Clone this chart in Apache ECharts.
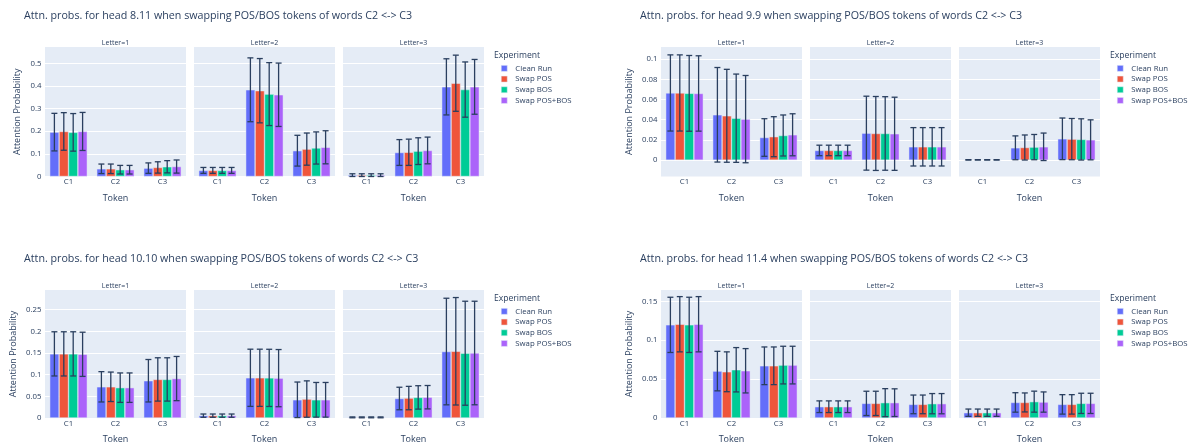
<!DOCTYPE html>
<html><head><meta charset="utf-8">
<script src="https://cdn.jsdelivr.net/npm/echarts@6/dist/echarts.min.js"></script>
<style>html,body{margin:0;padding:0;background:#fff}#c{width:1195px;height:445px}</style>
</head><body><div id="c"></div>
<script>
const categories = ['C1', 'C2', 'C3'];
const experiments = ['Clean Run', 'Swap POS', 'Swap BOS', 'Swap POS+BOS'];
const letters = ['Letter=1', 'Letter=2', 'Letter=3'];
const heads = ['8.11', '9.9', '10.10', '11.4'];
const colors = ['#636efa', '#EF553B', '#00cc96', '#ab63fa'];

// mean[letter][experiment][token]
const mean_8_11 = [
  [[0.196, 0.034, 0.037], [0.199, 0.034, 0.040], [0.195, 0.030, 0.043], [0.199, 0.030, 0.044]],
  [[0.027, 0.383, 0.114], [0.027, 0.379, 0.121], [0.027, 0.364, 0.126], [0.027, 0.361, 0.129]],
  [[0.006, 0.106, 0.396], [0.006, 0.107, 0.412], [0.006, 0.112, 0.384], [0.006, 0.115, 0.396]]
];
const err_8_11 = [
  [[0.083, 0.021, 0.023], [0.083, 0.021, 0.025], [0.083, 0.019, 0.027], [0.084, 0.019, 0.029]],
  [[0.013, 0.141, 0.068], [0.013, 0.142, 0.071], [0.013, 0.139, 0.071], [0.013, 0.140, 0.073]],
  [[0.006, 0.057, 0.124], [0.006, 0.058, 0.124], [0.006, 0.059, 0.122], [0.006, 0.059, 0.121]]
];
const mean_9_9 = [
  [[0.0665, 0.0449, 0.0224], [0.0665, 0.0439, 0.0232], [0.0661, 0.0415, 0.0244], [0.0660, 0.0406, 0.0251]],
  [[0.0096, 0.0267, 0.0132], [0.0096, 0.0264, 0.0132], [0.0096, 0.0264, 0.0132], [0.0096, 0.0261, 0.0132]],
  [[0.0003, 0.0122, 0.0211], [0.0003, 0.0125, 0.0208], [0.0003, 0.0129, 0.0205], [0.0003, 0.0132, 0.0201]]
];
const err_9_9 = [
  [[0.0377, 0.0468, 0.0186], [0.0377, 0.0460, 0.0198], [0.0375, 0.0437, 0.0203], [0.0373, 0.0432, 0.0208]],
  [[0.0052, 0.0366, 0.0190], [0.0052, 0.0366, 0.0190], [0.0052, 0.0364, 0.0190], [0.0052, 0.0362, 0.0190]],
  [[0.0002, 0.0118, 0.0206], [0.0002, 0.0124, 0.0204], [0.0002, 0.0125, 0.0204], [0.0002, 0.0136, 0.0198]]
];
const mean_10_10 = [
  [[0.148, 0.072, 0.086], [0.148, 0.072, 0.089], [0.148, 0.070, 0.089], [0.147, 0.070, 0.091]],
  [[0.0054, 0.0928, 0.042], [0.0054, 0.0928, 0.0437], [0.0054, 0.0926, 0.042], [0.0054, 0.092, 0.042]],
  [[0.0015, 0.045, 0.1534], [0.0015, 0.046, 0.154], [0.0015, 0.0475, 0.1495], [0.0015, 0.048, 0.150]]
];
const err_10_10 = [
  [[0.051, 0.035, 0.049], [0.051, 0.034, 0.050], [0.051, 0.034, 0.050], [0.051, 0.034, 0.051]],
  [[0.0038, 0.066, 0.041], [0.0038, 0.066, 0.042], [0.0038, 0.066, 0.040], [0.0038, 0.066, 0.040]],
  [[0.001, 0.026, 0.123], [0.001, 0.027, 0.124], [0.001, 0.027, 0.120], [0.001, 0.027, 0.1195]]
];
const mean_11_4 = [
  [[0.1197, 0.0603, 0.0671], [0.1205, 0.0594, 0.0671], [0.1197, 0.0620, 0.0680], [0.1205, 0.0607, 0.0680]],
  [[0.0145, 0.0188, 0.0175], [0.0145, 0.0188, 0.0175], [0.0145, 0.0197, 0.0184], [0.0145, 0.0197, 0.0184]],
  [[0.0068, 0.0200, 0.0175], [0.0068, 0.0200, 0.0175], [0.0068, 0.0210, 0.0188], [0.0068, 0.0205, 0.0188]]
];
const err_11_4 = [
  [[0.0355, 0.0254, 0.0242], [0.0355, 0.0256, 0.0242], [0.0355, 0.0285, 0.0242], [0.0355, 0.0285, 0.0242]],
  [[0.0075, 0.0156, 0.012], [0.0075, 0.0156, 0.012], [0.0075, 0.018, 0.013], [0.0075, 0.0178, 0.013]],
  [[0.0047, 0.0125, 0.0125], [0.0047, 0.0122, 0.0125], [0.0047, 0.0135, 0.013], [0.0047, 0.013, 0.013]]
];

const yTicks_8_11 = [0, 0.1, 0.2, 0.3, 0.4, 0.5];
const yTicks_9_9 = [0, 0.02, 0.04, 0.06, 0.08, 0.1];
const yTicks_10_10 = [0, 0.05, 0.1, 0.15, 0.2, 0.25];
const yTicks_11_4 = [0, 0.05, 0.1, 0.15];

const yRange_8_11 = [0, 0.572];
const yRange_9_9 = [-0.0162, 0.112];
const yRange_10_10 = [0, 0.2954];
const yRange_11_4 = [0, 0.1645];

const means = [mean_8_11, mean_9_9, mean_10_10, mean_11_4];
const errs = [err_8_11, err_9_9, err_10_10, err_11_4];
const ticks = [yTicks_8_11, yTicks_9_9, yTicks_10_10, yTicks_11_4];
const ranges = [yRange_8_11, yRange_9_9, yRange_10_10, yRange_11_4];

// layout
const FONT = "'Open Sans', verdana, arial, sans-serif";
const TXT = '#2a3f5f';
const panels = [{dx: 0, dy: 0}, {dx: 616, dy: 0}, {dx: 0, dy: 243}, {dx: 616, dy: 243}];
const yNameGap = [23.5, 27.5, 27.5, 27.5];
const facetLeft = [45, 194, 343], facetW = 141, plotTop = 47, plotH = 129.5;

const grid = [], xAxis = [], yAxis = [], series = [], title = [], legend = [];
panels.forEach((p, pi) => {
  title.push({
    text: 'Attn. probs. for head ' + heads[pi] + ' when swapping POS/BOS tokens of words C2 <-> C3',
    left: 24 + p.dx, top: 9 + p.dy, padding: 0,
    textStyle: {fontFamily: FONT, fontSize: 10.7, fontWeight: 'normal', color: TXT, lineHeight: 13}
  });
  title.push({
    text: 'Experiment', left: 494 + p.dx, top: 50.5 + p.dy, padding: 0,
    textStyle: {fontFamily: FONT, fontSize: 8.6, fontWeight: 'normal', color: TXT, lineHeight: 11}
  });
  legend.push({
    data: experiments, orient: 'vertical', left: 501 + p.dx, top: 63 + p.dy, padding: 0,
    itemWidth: 6, itemHeight: 6, itemGap: 0, icon: 'rect',
    itemStyle: {borderColor: '#E5ECF6', borderWidth: 0.5},
    textStyle: {fontFamily: FONT, fontSize: 7.8, color: TXT, lineHeight: 10.7, padding: [0, 0, 0, 3]},
    selectedMode: false
  });
  letters.forEach((lt, fi) => {
    const gi = grid.length;
    const left = facetLeft[fi] + p.dx;
    const top = plotTop + p.dy;
    grid.push({left: left, top: top, width: facetW, height: plotH, show: true,
      backgroundColor: '#E5ECF6', borderWidth: 0, containLabel: false});
    title.push({
      text: lt, left: left + facetW / 2, textAlign: 'center', top: top - 8.5, padding: 0,
      textStyle: {fontFamily: FONT, fontSize: 7, fontWeight: 'normal', color: TXT, lineHeight: 8}
    });
    xAxis.push({
      type: 'category', gridIndex: gi, data: categories,
      axisLine: {show: false}, axisTick: {show: false}, splitLine: {show: false},
      axisLabel: {fontFamily: FONT, fontSize: 7.8, color: TXT, margin: 1.5},
      name: 'Token', nameLocation: 'middle', nameGap: 17,
      nameTextStyle: {fontFamily: FONT, fontSize: 9, color: TXT}
    });
    yAxis.push({
      type: 'value', gridIndex: gi, min: ranges[pi][0], max: ranges[pi][1],
      axisLine: {show: false},
      axisTick: {show: false, customValues: ticks[pi]},
      splitLine: {show: true, lineStyle: {color: '#ffffff', width: 1}},
      axisLabel: {show: fi === 0, customValues: ticks[pi], fontFamily: FONT, fontSize: 7.8, color: TXT, margin: 3.5},
      name: fi === 0 ? 'Attention Probability' : '', nameLocation: 'middle', nameRotate: 90,
      nameGap: yNameGap[pi], nameTextStyle: {fontFamily: FONT, fontSize: 9, color: TXT}
    });
    experiments.forEach((ex, ei) => {
      series.push({
        type: 'bar', name: ex, xAxisIndex: gi, yAxisIndex: gi,
        data: means[pi][fi][ei], barGap: '0%', barCategoryGap: '20%',
        itemStyle: {color: colors[ei], borderColor: '#E5ECF6', borderWidth: 0.5},
        silent: true, animation: false
      });
    });
    experiments.forEach((ex, ei) => {
      const d = categories.map((c, ci) => [ci, means[pi][fi][ei][ci], errs[pi][fi][ei][ci]]);
      series.push({
        type: 'custom', name: ex, xAxisIndex: gi, yAxisIndex: gi, z: 5,
        data: d, encode: {x: 0, y: 1}, silent: true, animation: false, clip: false,
        itemStyle: {color: colors[ei]},
        renderItem: (params, api) => {
          const ci = api.value(0), m = api.value(1), e = api.value(2);
          const band = api.size([1, 0])[0];
          const bw = band * 0.8 / 4;
          const x = api.coord([ci, m])[0] + (ei - 1.5) * bw;
          const yt = api.coord([ci, m + e])[1];
          const yb = api.coord([ci, m - e])[1];
          const cap = 3;
          const st = {stroke: '#2a3f5f', lineWidth: 1.3};
          return {type: 'group', children: [
            {type: 'line', shape: {x1: x, y1: yt, x2: x, y2: yb}, style: st},
            {type: 'line', shape: {x1: x - cap, y1: yt, x2: x + cap, y2: yt}, style: st},
            {type: 'line', shape: {x1: x - cap, y1: yb, x2: x + cap, y2: yb}, style: st}
          ]};
        }
      });
    });
  });
});

const chart = echarts.init(document.getElementById('c'), null, {renderer: 'canvas'});
chart.setOption({
  animation: false, backgroundColor: '#ffffff',
  title: title, legend: legend, grid: grid, xAxis: xAxis, yAxis: yAxis, series: series
});
</script></body></html>
